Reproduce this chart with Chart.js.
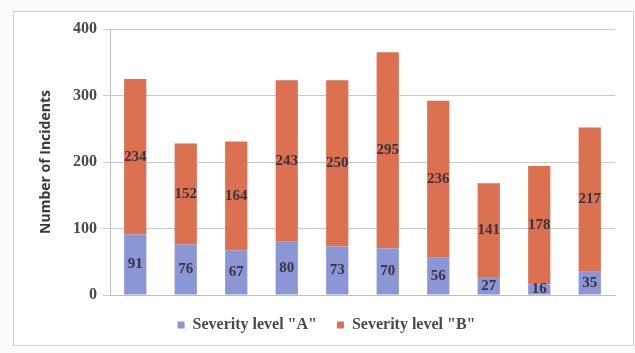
<!DOCTYPE html>
<html>
<head>
<meta charset="utf-8">
<script src="https://cdn.jsdelivr.net/npm/chart.js@4/dist/chart.umd.min.js"></script>
<style>
  html, body { margin: 0; padding: 0; background: #fbfbfb; }
  #frame { position: absolute; left: 13px; top: 11px; width: 619px; height: 333px; border: 1px solid #cfcfcf; background: #fff; }
  #wrap { position: absolute; left: 0; top: 0; width: 635px; height: 353px; }
</style>
</head>
<body>
<div id="frame"></div>
<div id="wrap"><canvas id="c" width="635" height="353"></canvas></div>
<script>
// Incident counts per period, split by severity
const categories = ["1", "2", "3", "4", "5", "6", "7", "8", "9", "10"];
const severityA = [91, 76, 67, 80, 73, 70, 56, 27, 16, 35];
const severityB = [234, 152, 164, 243, 250, 295, 236, 141, 178, 217];
const yTicks = [0, 100, 200, 300, 400];

const SERIF = '"Liberation Serif", "Times New Roman", serif';

// Writes each segment's value at the middle of its bar segment
const segmentLabels = {
  id: 'segmentLabels',
  afterDatasetsDraw(chart) {
    const ctx = chart.ctx;
    ctx.save();
    ctx.font = 'bold 15px ' + SERIF;
    ctx.fillStyle = '#3a3340';
    ctx.textAlign = 'center';
    ctx.textBaseline = 'middle';
    chart.data.datasets.forEach((ds, di) => {
      chart.getDatasetMeta(di).data.forEach((bar, i) => {
        const mid = (bar.y + bar.base) / 2;
        ctx.fillText(String(ds.data[i]), bar.x, mid);
      });
    });
    ctx.restore();
  }
};

new Chart(document.getElementById('c'), {
  type: 'bar',
  data: {
    labels: categories,
    datasets: [
      { label: 'Severity level "A"', data: severityA, backgroundColor: '#8b96d6' },
      { label: 'Severity level "B"', data: severityB, backgroundColor: '#db7150' }
    ]
  },
  options: {
    responsive: false,
    animation: false,
    layout: { padding: { left: 38, right: 20, top: 29, bottom: 10 } },
    datasets: { bar: { categoryPercentage: 1.0, barPercentage: 0.44 } },
    plugins: {
      legend: {
        position: 'bottom',
        labels: {
          font: { family: SERIF, size: 16, weight: 'bold' },
          color: '#4a4a4a',
          boxWidth: 7,
          boxHeight: 7,
          padding: 20
        }
      },
      tooltip: { enabled: false }
    },
    scales: {
      x: {
        stacked: true,
        ticks: { display: false },
        grid: { display: false, drawTicks: false },
        border: { display: true, color: '#bdbdbd' },
        afterFit(scale) { scale.height = 2; }
      },
      y: {
        stacked: true,
        min: 0,
        max: 400,
        afterBuildTicks(scale) { scale.ticks = yTicks.map(v => ({ value: v })); },
        ticks: {
          font: { family: SERIF, size: 16, weight: 'bold' },
          color: '#4a4a4a',
          padding: 6
        },
        grid: { color: '#c9c9c9', tickLength: 7 },
        border: { display: true, color: '#bdbdbd' },
        title: {
          display: true,
          text: 'Number of Incidents',
          font: { family: '"Open Sans", sans-serif', size: 14, weight: 'bold' },
          color: '#3a3a3a',
          padding: { top: 0, bottom: 0 }
        },
        afterFit(scale) { scale.width = 72; }
      }
    }
  },
  plugins: [segmentLabels]
});
</script>
</body>
</html>
